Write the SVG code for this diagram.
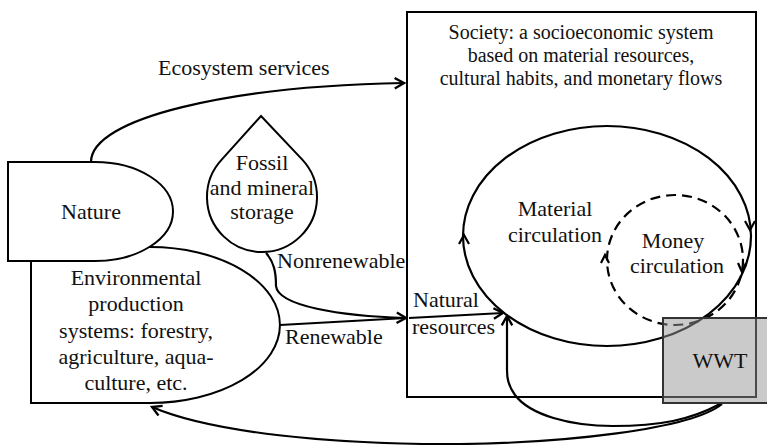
<svg xmlns="http://www.w3.org/2000/svg" width="767" height="445" viewBox="0 0 767 445">
<style>
text{font-family:"Liberation Serif","Times New Roman",serif;font-size:22px;fill:#111}
.c{text-anchor:middle}
.s{font-size:20px}
.ln{fill:none;stroke:#000;stroke-width:2.2}
.node{fill:#fff;stroke:#000;stroke-width:2}
.arr{fill:none;stroke:#000;stroke-width:2.2;stroke-linejoin:miter}
</style>
<defs>
<marker id="ah" markerUnits="userSpaceOnUse" markerWidth="14" markerHeight="14" viewBox="0 0 12 12" refX="10" refY="6" orient="auto">
<path d="M2,1.5 L10,6 L2,10.5" fill="none" stroke="#000" stroke-width="2"/>
</marker>
</defs>

<g id="society">
<rect x="407" y="12" width="349" height="385" class="node"/>
<text class="c s" x="581" y="39">Society: a socioeconomic system</text>
<text class="c s" x="581" y="62">based on material resources,</text>
<text class="c s" x="581" y="85">cultural habits, and monetary flows</text>
</g>

<g id="material-circulation">
<ellipse cx="607" cy="236" rx="144" ry="110" class="ln" stroke-width="2.5"/>
<text class="c" x="555" y="216">Material</text>
<text class="c" x="555" y="242">circulation</text>
<path class="arr" d="M459,244 L464,235 L469,244"/>
<path class="arr" d="M745,221 L750,230 L755,221"/>
</g>

<g id="money-circulation">
<ellipse cx="675" cy="260" rx="68" ry="65" class="ln" stroke-dasharray="10,6"/>
<text class="c" x="673" y="248">Money</text>
<text class="c" x="677" y="273">circulation</text>
<path class="arr" d="M601,263 L605,255 L609,263"/>
<path class="arr" d="M738,263 L742,272 L746,263"/>
</g>

<g id="connectors">
<path class="ln" d="M91,162 C91,118 230,86 404,83" marker-end="url(#ah)"/>
<path class="ln" d="M266,253 C274,262 276,272 276,286 C278,306 340,316 406,318" marker-end="url(#ah)"/>
<path class="ln" d="M280,325 L406,318"/>
<path class="ln" d="M409,318 L503,313" marker-end="url(#ah)"/>
<path class="ln" d="M720,404 C690,420 660,426 613,426 C570,426 530,415 515,395 C508,385 507,378 507,370 L507,316" marker-end="url(#ah)"/>
<path class="ln" d="M722,404 C690,430 560,443 460,444 C330,445 210,432 152,407" marker-end="url(#ah)"/>
<text x="158" y="75">Ecosystem services</text>
<text x="277" y="268">Nonrenewable</text>
<text x="285" y="344">Renewable</text>
<text x="413" y="307">Natural</text>
<text x="412" y="334">resources</text>
</g>

<g id="environmental-production">
<path class="node" d="M31,247 L31,403 L150,403 A130,78 0 0 0 150,247 Z"/>
<text class="c" x="136" y="285">Environmental</text>
<text class="c" x="136" y="311">production</text>
<text class="c" x="136" y="338">systems: forestry,</text>
<text class="c" x="136" y="364">agriculture, aqua-</text>
<text class="c" x="136" y="390">culture, etc.</text>
</g>

<g id="nature">
<path class="node" d="M8,162 L95,162 A78,49.5 0 0 1 95,261 L8,261 Z"/>
<text class="c" x="91" y="219">Nature</text>
</g>

<g id="fossil">
<path class="node" d="M261,116 L302.3,159.6 A55,55 0 1 1 221.7,159.6 Z"/>
<text class="c" x="262" y="170">Fossil</text>
<text class="c" x="262" y="195">and mineral</text>
<text class="c" x="262" y="219">storage</text>
</g>

<g id="wwt">
<rect x="663" y="318" width="110" height="85" fill="rgb(150,150,150)" fill-opacity="0.5" stroke="#333" stroke-width="2"/>
<text class="c" x="720" y="368">WWT</text>
</g>
</svg>
